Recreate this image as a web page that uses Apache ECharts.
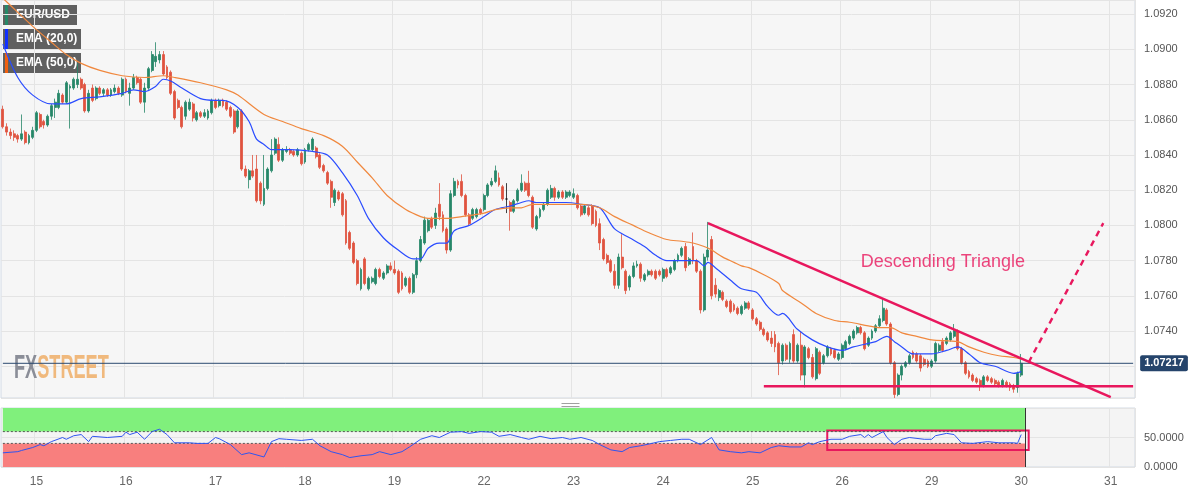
<!DOCTYPE html>
<html><head><meta charset="utf-8">
<script src="https://cdn.jsdelivr.net/npm/echarts/dist/echarts.min.js"></script>
<style>html,body{margin:0;padding:0;background:#fff}#c{width:1200px;height:492px}</style>
</head><body><div id="c"></div>
<script>
// ---------- data ----------
const dayLabels = ['12','15','16','17','18','19','22','23','24','25','26','29','30','31'];
const firstDayStartHour = 15;   // first visible hour of day 12
const lastDayHourCount = 7;     // hours shown for day 31 (empty space)

// hourly candles: [open, close, low, high]
const ohlc = [
[1.0866,1.0856,1.0855,1.0868],[1.0856,1.0853,1.0851,1.0858],[1.0853,1.0851,1.0849,1.0855],[1.0852,1.0850,1.0848,1.0854],
[1.0851,1.0849,1.0847,1.0852],[1.0849,1.0852,1.0848,1.0863],[1.0853,1.0847,1.0846,1.0854],[1.0847,1.0851,1.0846,1.0852],
[1.0850,1.0854,1.0849,1.0856],[1.0854,1.0864,1.0853,1.0865],[1.0863,1.0856,1.0855,1.0864],[1.0859,1.0857,1.0855,1.0860],
[1.0857,1.0862,1.0856,1.0863],[1.0862,1.0868,1.0860,1.0869],[1.0867,1.0870,1.0861,1.0872],[1.0867,1.0875,1.0866,1.0877],
[1.0874,1.0870,1.0869,1.0875],[1.0870,1.0881,1.0869,1.0882],[1.0878,1.0879,1.0855,1.0880],[1.0878,1.0883,1.0877,1.0884],
[1.0880,1.0883,1.0878,1.0892],[1.0883,1.0878,1.0877,1.0884],[1.0880,1.0865,1.0864,1.0881],[1.0865,1.0875,1.0864,1.0877],
[1.0878,1.0871,1.0870,1.0880],[1.0872,1.0878,1.0871,1.0879],[1.0878,1.0875,1.0874,1.0879],[1.0875,1.0877,1.0873,1.0878],
[1.0877,1.0874,1.0873,1.0878],[1.0874,1.0877,1.0873,1.0878],[1.0876,1.0878,1.0875,1.0880],[1.0878,1.0875,1.0874,1.0879],
[1.0874,1.0883,1.0873,1.0884],[1.0883,1.0876,1.0875,1.0884],[1.0875,1.0878,1.0868,1.0881],[1.0878,1.0884,1.0877,1.0886],
[1.0884,1.0881,1.0880,1.0885],[1.0883,1.0870,1.0869,1.0884],[1.0870,1.0878,1.0864,1.0881],[1.0878,1.0889,1.0877,1.0890],
[1.0888,1.0897,1.0887,1.0899],[1.0893,1.0896,1.0890,1.0904],[1.0894,1.0897,1.0892,1.0899],[1.0897,1.0886,1.0885,1.0899],
[1.0890,1.0884,1.0883,1.0891],[1.0887,1.0875,1.0874,1.0888],[1.0876,1.0861,1.0860,1.0877],[1.0871,1.0867,1.0866,1.0872],
[1.0867,1.0856,1.0855,1.0868],[1.0862,1.0870,1.0860,1.0871],[1.0866,1.0870,1.0865,1.0872],[1.0869,1.0861,1.0859,1.0870],
[1.0860,1.0864,1.0859,1.0865],[1.0864,1.0862,1.0861,1.0865],[1.0862,1.0864,1.0861,1.0866],[1.0861,1.0865,1.0860,1.0866],
[1.0864,1.0871,1.0863,1.0872],[1.0871,1.0867,1.0866,1.0872],[1.0868,1.0871,1.0867,1.0872],[1.0871,1.0868,1.0867,1.0872],
[1.0870,1.0866,1.0865,1.0871],[1.0867,1.0862,1.0861,1.0868],[1.0865,1.0853,1.0852,1.0866],[1.0856,1.0865,1.0855,1.0866],
[1.0865,1.0832,1.0831,1.0866],[1.0832,1.0828,1.0827,1.0834],[1.0826,1.0831,1.0821,1.0832],[1.0831,1.0828,1.0827,1.0840],
[1.0832,1.0814,1.0813,1.0840],[1.0824,1.0814,1.0812,1.0825],[1.0812,1.0821,1.0811,1.0840],[1.0821,1.0832,1.0820,1.0833],
[1.0831,1.0840,1.0830,1.0849],[1.0841,1.0849,1.0840,1.0850],[1.0846,1.0837,1.0836,1.0850],[1.0837,1.0843,1.0836,1.0844],
[1.0842,1.0843,1.0841,1.0845],[1.0843,1.0841,1.0840,1.0844],[1.0842,1.0840,1.0839,1.0843],[1.0840,1.0843,1.0839,1.0844],
[1.0841,1.0835,1.0834,1.0842],[1.0836,1.0843,1.0835,1.0844],[1.0843,1.0846,1.0842,1.0847],[1.0843,1.0849,1.0842,1.0850],
[1.0844,1.0839,1.0838,1.0845],[1.0840,1.0833,1.0832,1.0841],[1.0834,1.0831,1.0830,1.0835],[1.0830,1.0824,1.0823,1.0831],
[1.0825,1.0816,1.0810,1.0826],[1.0813,1.0820,1.0811,1.0821],[1.0819,1.0815,1.0814,1.0820],[1.0818,1.0806,1.0805,1.0819],
[1.0814,1.0790,1.0789,1.0815],[1.0796,1.0787,1.0786,1.0797],[1.0790,1.0779,1.0778,1.0791],[1.0780,1.0767,1.0766,1.0781],
[1.0764,1.0775,1.0763,1.0776],[1.0781,1.0767,1.0766,1.0782],[1.0764,1.0770,1.0763,1.0771],[1.0768,1.0770,1.0767,1.0771],
[1.0767,1.0775,1.0766,1.0776],[1.0775,1.0771,1.0770,1.0776],[1.0770,1.0773,1.0769,1.0774],[1.0773,1.0777,1.0772,1.0778],
[1.0777,1.0775,1.0774,1.0779],[1.0775,1.0773,1.0772,1.0780],[1.0774,1.0762,1.0761,1.0775],[1.0773,1.0764,1.0763,1.0774],
[1.0766,1.0770,1.0765,1.0771],[1.0770,1.0762,1.0761,1.0771],[1.0762,1.0772,1.0761,1.0773],[1.0772,1.0780,1.0770,1.0782],
[1.0780,1.0792,1.0779,1.0794],[1.0790,1.0803,1.0789,1.0805],[1.0797,1.0803,1.0796,1.0804],[1.0804,1.0799,1.0798,1.0805],
[1.0800,1.0807,1.0798,1.0810],[1.0812,1.0805,1.0803,1.0824],[1.0806,1.0797,1.0796,1.0808],[1.0798,1.0786,1.0784,1.0799],
[1.0786,1.0818,1.0785,1.0820],[1.0817,1.0825,1.0816,1.0827],[1.0825,1.0823,1.0821,1.0826],[1.0825,1.0817,1.0816,1.0829],
[1.0817,1.0806,1.0805,1.0818],[1.0806,1.0801,1.0800,1.0807],[1.0804,1.0809,1.0803,1.0810],[1.0805,1.0809,1.0804,1.0810],
[1.0809,1.0807,1.0806,1.0810],[1.0809,1.0817,1.0808,1.0818],[1.0817,1.0823,1.0816,1.0824],[1.0823,1.0825,1.0822,1.0827],
[1.0825,1.0831,1.0824,1.0834],[1.0827,1.0823,1.0822,1.0830],[1.0822,1.0815,1.0814,1.0823],[1.0815,1.0815,1.0807,1.0824],
[1.0813,1.0808,1.0797,1.0814],[1.0808,1.0814,1.0807,1.0815],[1.0814,1.0820,1.0813,1.0821],[1.0820,1.0824,1.0819,1.0829],
[1.0824,1.0820,1.0819,1.0825],[1.0824,1.0817,1.0816,1.0831],[1.0816,1.0799,1.0798,1.0817],[1.0798,1.0805,1.0797,1.0806],
[1.0805,1.0809,1.0804,1.0810],[1.0809,1.0812,1.0808,1.0813],[1.0812,1.0820,1.0811,1.0821],[1.0816,1.0821,1.0815,1.0823],
[1.0821,1.0816,1.0814,1.0822],[1.0816,1.0819,1.0815,1.0820],[1.0819,1.0816,1.0815,1.0820],[1.0816,1.0819,1.0815,1.0820],
[1.0817,1.0819,1.0816,1.0820],[1.0816,1.0818,1.0815,1.0821],[1.0817,1.0810,1.0809,1.0818],[1.0811,1.0806,1.0805,1.0812],
[1.0807,1.0811,1.0806,1.0812],[1.0810,1.0806,1.0805,1.0811],[1.0811,1.0801,1.0800,1.0812],[1.0808,1.0800,1.0799,1.0809],
[1.0801,1.0790,1.0786,1.0804],[1.0792,1.0781,1.0780,1.0793],[1.0783,1.0779,1.0778,1.0784],[1.0780,1.0774,1.0773,1.0781],
[1.0774,1.0766,1.0764,1.0778],[1.0766,1.0782,1.0764,1.0784],[1.0782,1.0776,1.0775,1.0795],[1.0774,1.0763,1.0761,1.0775],
[1.0765,1.0771,1.0763,1.0772],[1.0771,1.0777,1.0770,1.0779],[1.0777,1.0778,1.0776,1.0780],[1.0778,1.0770,1.0768,1.0779],
[1.0769,1.0772,1.0768,1.0773],[1.0772,1.0774,1.0771,1.0775],[1.0774,1.0772,1.0771,1.0775],[1.0774,1.0770,1.0769,1.0775],
[1.0774,1.0772,1.0771,1.0775],[1.0770,1.0775,1.0768,1.0776],[1.0775,1.0771,1.0770,1.0776],[1.0773,1.0776,1.0772,1.0777],
[1.0775,1.0780,1.0774,1.0781],[1.0780,1.0783,1.0779,1.0784],[1.0783,1.0787,1.0782,1.0788],[1.0788,1.0776,1.0774,1.0790],
[1.0778,1.0781,1.0777,1.0782],[1.0788,1.0780,1.0778,1.0796],[1.0780,1.0774,1.0773,1.0781],[1.0774,1.0752,1.0750,1.0775],
[1.0752,1.0782,1.0751,1.0784],[1.0782,1.0786,1.0780,1.0802],[1.0792,1.0760,1.0758,1.0794],[1.0766,1.0761,1.0759,1.0770],
[1.0759,1.0763,1.0757,1.0764],[1.0762,1.0758,1.0757,1.0763],[1.0757,1.0754,1.0753,1.0758],[1.0757,1.0751,1.0750,1.0758],
[1.0755,1.0752,1.0751,1.0756],[1.0753,1.0750,1.0749,1.0754],[1.0750,1.0754,1.0749,1.0755],[1.0753,1.0756,1.0752,1.0757],
[1.0756,1.0753,1.0752,1.0757],[1.0752,1.0747,1.0746,1.0753],[1.0747,1.0744,1.0743,1.0748],[1.0745,1.0741,1.0740,1.0746],
[1.0741,1.0738,1.0737,1.0742],[1.0739,1.0735,1.0734,1.0740],[1.0736,1.0733,1.0731,1.0740],[1.0738,1.0731,1.0728,1.0740],
[1.0733,1.0722,1.0715,1.0734],[1.0723,1.0732,1.0721,1.0733],[1.0732,1.0724,1.0723,1.0733],[1.0724,1.0733,1.0722,1.0734],
[1.0738,1.0723,1.0722,1.0741],[1.0723,1.0732,1.0722,1.0733],[1.0732,1.0715,1.0712,1.0740],[1.0715,1.0731,1.0708,1.0732],
[1.0730,1.0725,1.0724,1.0731],[1.0725,1.0714,1.0713,1.0727],[1.0713,1.0730,1.0712,1.0731],[1.0728,1.0716,1.0715,1.0729],
[1.0722,1.0726,1.0721,1.0727],[1.0726,1.0731,1.0725,1.0732],[1.0730,1.0727,1.0726,1.0731],[1.0729,1.0725,1.0724,1.0730],
[1.0724,1.0727,1.0723,1.0728],[1.0725,1.0732,1.0724,1.0733],[1.0730,1.0734,1.0729,1.0735],[1.0733,1.0737,1.0732,1.0738],
[1.0736,1.0740,1.0735,1.0741],[1.0739,1.0742,1.0738,1.0743],[1.0742,1.0739,1.0738,1.0743],[1.0739,1.0730,1.0729,1.0740],
[1.0732,1.0736,1.0731,1.0737],[1.0736,1.0740,1.0735,1.0741],[1.0740,1.0743,1.0739,1.0744],[1.0743,1.0747,1.0742,1.0749],
[1.0746,1.0753,1.0745,1.07585],[1.0752,1.0744,1.0743,1.0753],[1.0744,1.0722,1.0721,1.0745],[1.0722,1.0704,1.0702,1.0723],
[1.0704,1.0715,1.0703,1.0716],[1.0715,1.0720,1.0712,1.0721],[1.0720,1.0722,1.0719,1.0723],[1.0722,1.0726,1.0721,1.0727],
[1.0728,1.0725,1.0724,1.0729],[1.0727,1.0723,1.0722,1.0728],[1.0726,1.0719,1.0717,1.0727],[1.0724,1.0721,1.0720,1.0725],
[1.0723,1.0720,1.0719,1.0724],[1.0720,1.0723,1.0719,1.0724],[1.0723,1.0733,1.0722,1.0734],[1.0729,1.0732,1.0728,1.0733],
[1.0734,1.0729,1.0728,1.0736],[1.0733,1.0736,1.0732,1.0737],[1.0735,1.0739,1.0734,1.0740],[1.0737,1.0740,1.0736,1.0744],
[1.0740,1.0730,1.0729,1.0741],[1.0730,1.0722,1.0721,1.0731],[1.0722,1.0716,1.0715,1.0723],[1.0717,1.0714,1.0713,1.0718],
[1.0715,1.0712,1.0711,1.0716],[1.0713,1.0711,1.0710,1.0714],[1.0712,1.0709,1.0706,1.0713],[1.0709,1.0714,1.0708,1.0715],
[1.0714,1.0712,1.0711,1.0715],[1.0713,1.0711,1.0710,1.0714],[1.0712,1.0710,1.0709,1.0713],[1.0711,1.0709,1.0708,1.0712],
[1.0709,1.0712,1.0708,1.0713],[1.0711,1.0709,1.0708,1.0712],[1.0710,1.0708,1.0706,1.0711],[1.0709,1.0707,1.0705,1.0710],
[1.0708,1.0716,1.0705,1.0717],[1.0715,1.07217,1.0714,1.0727]
];

// EMA lines: [candle index, value]
const ema20 = [[0,1.0903],[4,1.0884],[8,1.0874],[13,1.0869],[17,1.0869],[21,1.0872],[26,1.0873],[32,1.0875],[35,1.0877],[38,1.0876],
[41,1.0879],[43,1.0883],[45,1.0882],[48,1.0878],[53,1.0872],[57,1.0871],[59,1.0871],[63,1.0867],[66,1.0859],[68,1.0849],[70,1.0846],
[72,1.0843],[77,1.0843],[83,1.0842],[87,1.0840],[91,1.0830],[95,1.0817],[98,1.0804],[102,1.0793],[106,1.0786],[110,1.0781],[112,1.0781],
[114,1.0787],[117,1.0790],[119,1.0790],[121,1.0797],[125,1.0800],[129,1.0805],[132,1.0809],[136,1.0811],[139,1.0813],[141,1.0814],
[143,1.0813],[146,1.0813],[151,1.0813],[155,1.0812],[160,1.0810],[164,1.0798],[168,1.0793],[172,1.0788],[175,1.0783],[178,1.0780],
[182,1.0780],[186,1.0780],[188,1.0777],[189,1.0779],[191,1.0776],[195,1.0769],[198,1.0764],[202,1.0762],[205,1.0754],[208,1.0749],
[209,1.0750],[213,1.0741],[217,1.0735],[221,1.0731],[225,1.0729],[228,1.0731],[232,1.0733],[234,1.0734],[237,1.0737],[239,1.0734],
[241,1.0731],[244,1.0727],[249,1.0727],[253,1.0729],[256,1.0731],[259,1.0727],[262,1.0722],[266,1.0720],[271,1.0716],[273,1.0717]];
const ema50 = [[0,1.0929],[2,1.0925],[5,1.0919],[8,1.0913],[13,1.0904],[17,1.0897],[21,1.0892],[26,1.0888],[32,1.0885],[38,1.0884],
[43,1.0885],[46,1.0884],[53,1.0881],[60,1.0877],[63,1.0874],[70,1.0863],[75,1.0859],[80,1.0855],[86,1.0851],[91,1.0845],[95,1.0836],
[99,1.0827],[103,1.0817],[108,1.0809],[112,1.0805],[114,1.0804],[119,1.0804],[123,1.0805],[129,1.0807],[132,1.0809],[136,1.0810],
[139,1.0810],[142,1.0812],[146,1.0812],[155,1.0812],[160,1.0810],[164,1.0805],[169,1.0800],[173,1.0796],[178,1.0792],[182,1.0791],
[185,1.0790],[188,1.0788],[190,1.0786],[193,1.0782],[196,1.0779],[198,1.0777],[200,1.0776],[204,1.0772],[208,1.0767],[209,1.0763],
[214,1.0756],[218,1.0750],[223,1.0746],[227,1.0745],[232,1.0743],[235,1.0742],[238,1.0742],[241,1.0739],[245,1.0737],[249,1.0735],
[256,1.0734],[259,1.0731],[263,1.0728],[267,1.0726],[271,1.0725],[273,1.0724]];

// RSI (14): [candle index, value]
const rsi = [[0,24],[4,26],[5,28],[8,33],[10,38],[11,36],[13,43],[16,50],[17,47],[19,53],[21,55],[23,43],[24,52],[28,50],[32,52],[33,59],
[34,55],[36,59],[38,47],[40,60],[42,64],[44,55],[46,41],[50,41],[52,40],[55,40],[57,50],[58,48],[61,38],[64,21],[66,24],[70,17],[72,43],
[74,48],[76,47],[80,45],[83,47],[85,36],[88,26],[91,21],[93,16],[96,19],[99,21],[101,26],[104,21],[107,26],[109,34],[112,47],[115,53],
[117,50],[120,59],[123,60],[125,57],[128,60],[131,59],[133,52],[136,55],[139,50],[141,47],[144,52],[147,48],[150,50],[152,47],[155,50],
[158,45],[160,38],[163,29],[166,26],[168,33],[171,36],[174,40],[176,43],[179,45],[182,47],[184,47],[187,38],[190,50],[192,29],[195,26],
[198,24],[200,26],[203,24],[206,33],[208,36],[211,34],[214,34],[216,41],[217,38],[219,43],[222,47],[225,47],[227,52],[230,55],[231,50],
[232,55],[233,50],[236,60],[237,50],[239,38],[241,47],[243,50],[247,47],[249,47],[250,53],[253,57],[255,55],[257,41],[260,40],[264,43],
[267,41],[271,41],[272,40],[273,55]];

const lastPrice = 1.07217;
const resistance = [[189,1.08013],[297,1.07025]];
const support = [[204,1.07087],[303,1.07087]];
const projection = [[275,1.07223],[295,1.08013]];
const noteLabel = {text:'Descending Triangle', at:[252,1.0779]};
const rsiBox = [[221,62],[275,29]];
const rsiUpper = 60, rsiLower = 40;
const priceTicks = {min:1.0702, max:1.0928, splitNumber:11};

// ---------- build ----------
const categories = [];
dayLabels.forEach((d,k)=>{
  const s = k===0 ? firstDayStartHour : 0;
  const e = k===dayLabels.length-1 ? lastDayHourCount : 24;
  for(let h=s;h<e;h++) categories.push(d+' '+(h<10?'0':'')+h+':00');
});
const isDayStart = (i,v)=> String(v).endsWith(' 00:00');
const lastIdx = ohlc.length-1;
const lastCat = categories.length-1;
const priceLine = [[0,lastPrice],[lastCat,lastPrice]];
const rsiUpperLine = [[0,rsiUpper],[lastIdx,rsiUpper]];
const rsiLowerLine = [[0,rsiLower],[lastIdx,rsiLower]];

const pink = '#e8175d';
const FONT = '"Liberation Sans", Arial, sans-serif';
function tag(top, w, stripe, text, bg){
  return {type:'group', left:3, top:top, z:10, children:[
    {type:'rect', shape:{x:0,y:0,width:w,height:20}, style:{fill:bg}},
    {type:'rect', shape:{x:2,y:0,width:3,height:20}, style:{fill:stripe}},
    {type:'text', x:13, y:10, style:{text:text, fill:'#fff', font:'bold 12px '+FONT, verticalAlign:'middle'}}
  ]};
}

const chart = echarts.init(document.getElementById('c'), null, {renderer:'canvas', width:1200, height:492});
chart.setOption({
  animation:false,
  backgroundColor:'#ffffff',
  textStyle:{fontFamily:FONT},
  grid:[
    {left:1, top:0, width:1134, height:398, show:true, backgroundColor:'#f6f6f6', borderColor:'#d2dae5', borderWidth:1},
    {left:1, top:408, width:1134, height:59, show:true, backgroundColor:'#f4f4f4', borderColor:'#d2dae5', borderWidth:1}
  ],
  xAxis:[
    {type:'category', gridIndex:0, data:categories, boundaryGap:true,
     axisLine:{show:false}, axisTick:{show:false}, axisLabel:{show:false},
     splitLine:{show:true, interval:isDayStart, lineStyle:{color:'#e4e4e4', width:1}}},
    {type:'category', gridIndex:1, data:categories, boundaryGap:true,
     axisLine:{show:false}, axisTick:{show:false},
     axisLabel:{show:true, interval:isDayStart, formatter:v=>v.split(' ')[0], color:'#666', fontSize:12, margin:9},
     splitLine:{show:true, interval:isDayStart, lineStyle:{color:'#e4e4e4', width:1}}}
  ],
  yAxis:[
    {type:'value', gridIndex:0, position:'right', min:priceTicks.min, max:priceTicks.max, splitNumber:priceTicks.splitNumber,
     axisLine:{show:false}, axisTick:{show:false},
     axisLabel:{color:'#555', fontSize:11, margin:9, showMinLabel:false, showMaxLabel:false,
       formatter:v=> Math.abs(v-1.072)<1e-7 ? '' : v.toFixed(4)},
     splitLine:{show:true, lineStyle:{color:'#e4e4e4'}}},
    {type:'value', gridIndex:1, position:'right', min:0, max:100, interval:50,
     axisLine:{show:false}, axisTick:{show:false},
     axisLabel:{color:'#555', fontSize:11, margin:9, showMaxLabel:false, formatter:v=>v.toFixed(4)},
     splitLine:{show:true, lineStyle:{color:'#e4e4e4'}}}
  ],
  series:[
    {type:'candlestick', xAxisIndex:0, yAxisIndex:0, data:ohlc, barWidth:2.4, z:2,
     itemStyle:{color:'#268768', color0:'#e0533f', borderColor:'#268768', borderColor0:'#e0533f', borderWidth:0.8, borderColorDoji:'#111'}},
    {type:'line', name:'last', xAxisIndex:0, yAxisIndex:0, data:priceLine, symbol:'none', z:3, clip:false,
     lineStyle:{color:'#2b4a70', width:1},
     endLabel:{show:true, formatter:String(lastPrice), color:'#fff', fontWeight:'bold', fontSize:11,
               backgroundColor:'#25446b', padding:[3,4,2,4], borderRadius:2, distance:7}},
    {type:'line', name:'EMA20', xAxisIndex:0, yAxisIndex:0, data:ema20, symbol:'none', smooth:0.3, z:3,
     lineStyle:{color:'#2a4cff', width:1.2}},
    {type:'line', name:'EMA50', xAxisIndex:0, yAxisIndex:0, data:ema50, symbol:'none', smooth:0.3, z:3,
     lineStyle:{color:'#f0883e', width:1.2}},
    {type:'line', xAxisIndex:0, yAxisIndex:0, data:resistance, symbol:'none', z:4, lineStyle:{color:pink, width:2.6}},
    {type:'line', xAxisIndex:0, yAxisIndex:0, data:support, symbol:'none', z:4, lineStyle:{color:pink, width:2.4}},
    {type:'line', xAxisIndex:0, yAxisIndex:0, data:projection, symbol:'none', z:4, lineStyle:{color:pink, width:2.4, type:[6,5]}},
    {type:'scatter', xAxisIndex:0, yAxisIndex:0, data:[noteLabel.at], symbolSize:1, z:5, itemStyle:{color:'rgba(0,0,0,0)'},
     label:{show:true, position:'inside', formatter:noteLabel.text, color:pink, fontSize:18}},
    {type:'line', xAxisIndex:1, yAxisIndex:1, data:rsiUpperLine, symbol:'none', z:3, lineStyle:{color:'#555', width:1, type:[2,2]}},
    {type:'line', xAxisIndex:1, yAxisIndex:1, data:rsiLowerLine, symbol:'none', z:3, lineStyle:{color:'#555', width:1, type:[2,2]}},
    {type:'line', name:'RSI', xAxisIndex:1, yAxisIndex:1, data:rsi, symbol:'none', z:4,
     lineStyle:{color:'#2f55f0', width:1},
     markArea:{silent:true, data:[
       [{xAxis:-0.5, yAxis:rsiUpper, itemStyle:{color:'#80f07c'}},{xAxis:lastIdx+0.5, yAxis:100}],
       [{xAxis:-0.5, yAxis:0, itemStyle:{color:'#f87f7e'}},{xAxis:lastIdx+0.5, yAxis:rsiLower}],
       [{coord:rsiBox[0], itemStyle:{color:'rgba(0,0,0,0)', borderColor:pink, borderWidth:2}},{coord:rsiBox[1]}]
     ]},
     markLine:{silent:true, symbol:['none','none'], label:{show:false}, data:[
       [{coord:[lastIdx+0.5,0], lineStyle:{color:'#333', type:'solid', width:1}},{coord:[lastIdx+0.5,100]}]
     ]}}
  ],
  graphic:[
    {type:'text', left:14, top:352, z:1, scaleX:0.55,
     style:{text:'{a|FX}{b|STREET}', rich:{
       a:{fill:'#80838e', font:'bold 33px '+FONT},
       b:{fill:'#f0b370', font:'bold 33px '+FONT}}, opacity:0.9}},
    tag(5, 74, '#268768', 'EUR/USD', 'rgba(80,80,80,0.9)'),
    tag(29, 78, '#1030ff', 'EMA (20,0)', 'rgba(80,80,80,0.9)'),
    tag(53, 78, '#f06010', 'EMA (50,0)', 'rgba(80,80,80,0.9)'),
    tag(411, 102, '#20e020', 'RSI (14,60,40,1)', '#2d5a30'),
    {type:'group', left:559, top:401, children:[
      {type:'line', shape:{x1:0,y1:0.5,x2:18,y2:0.5}, style:{stroke:'#a0a0a0', lineWidth:1}},
      {type:'line', shape:{x1:0,y1:3.5,x2:18,y2:3.5}, style:{stroke:'#a0a0a0', lineWidth:1}}
    ]}
  ]
});
</script></body></html>
